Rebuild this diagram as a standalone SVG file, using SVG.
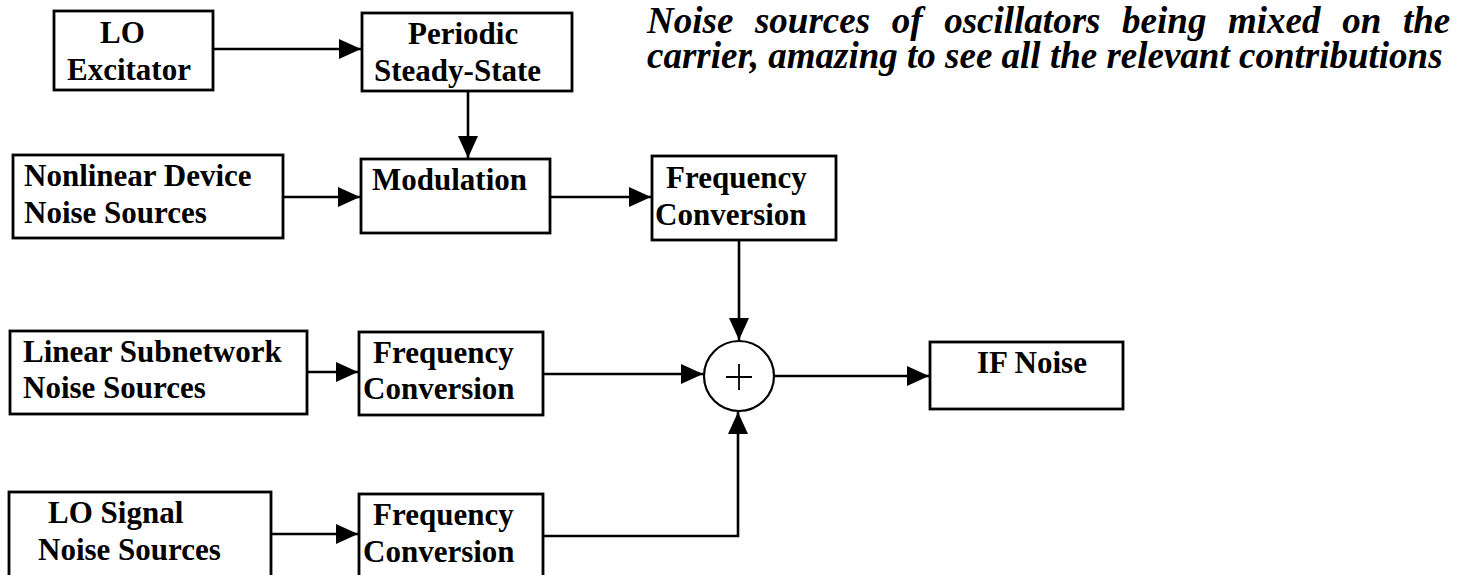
<svg xmlns="http://www.w3.org/2000/svg" width="1461" height="575" viewBox="0 0 1461 575">
<style>
.box{fill:#fff;stroke:#000;stroke-width:2.8}
.lbl{font-family:"Liberation Serif","Times New Roman",serif;font-weight:bold;font-size:31px;fill:#000}
.ttl{font-family:"Liberation Serif","Times New Roman",serif;font-weight:bold;font-style:italic;font-size:37px;fill:#000}
.con{fill:none;stroke:#000;stroke-width:2.6}
</style>
<defs>
<marker id="ah" markerUnits="userSpaceOnUse" viewBox="0 0 22 20" refX="22" refY="10" markerWidth="22" markerHeight="20" orient="auto">
<path d="M0,0 L22,10 L0,20 Z" fill="#000"/>
</marker>
</defs>
<rect width="1461" height="575" fill="#fff"/>
<g id="title">
<text class="ttl" x="647" y="33" word-spacing="12.4">Noise sources of oscillators being mixed on the</text>
<text class="ttl" x="647" y="68">carrier, amazing to see all the relevant contributions</text>
</g>
<g id="lo-excitator">
<rect class="box" x="54" y="11" width="159" height="79"/>
<text class="lbl" x="100" y="43">LO</text>
<text class="lbl" x="67" y="80">Excitator</text>
</g>
<g id="periodic">
<rect class="box" x="362" y="13" width="210" height="78"/>
<text class="lbl" x="408" y="44">Periodic</text>
<text class="lbl" x="374" y="81">Steady-State</text>
</g>
<g id="nonlinear">
<rect class="box" x="13" y="155" width="270" height="83"/>
<text class="lbl" x="24" y="186">Nonlinear Device</text>
<text class="lbl" x="24" y="223">Noise Sources</text>
</g>
<g id="modulation">
<rect class="box" x="361" y="159" width="189" height="74"/>
<text class="lbl" x="372" y="190">Modulation</text>
</g>
<g id="fc1">
<rect class="box" x="652" y="156" width="184" height="84"/>
<text class="lbl" x="666" y="188">Frequency</text>
<text class="lbl" x="655" y="225">Conversion</text>
</g>
<g id="linear">
<rect class="box" x="10" y="331" width="297" height="83"/>
<text class="lbl" x="23" y="362">Linear Subnetwork</text>
<text class="lbl" x="23" y="398">Noise Sources</text>
</g>
<g id="fc2">
<rect class="box" x="359" y="332" width="184" height="83"/>
<text class="lbl" x="373" y="363">Frequency</text>
<text class="lbl" x="363" y="399">Conversion</text>
</g>
<g id="sum">
<circle cx="739" cy="376" r="35" fill="#fff" stroke="#000" stroke-width="2.2"/>
<path d="M726,377 H752 M739,364 V390" stroke="#000" stroke-width="1.8" fill="none"/>
</g>
<g id="if-noise">
<rect class="box" x="930" y="342" width="193" height="67"/>
<text class="lbl" x="977" y="373">IF Noise</text>
</g>
<g id="lo-signal">
<rect class="box" x="9" y="492" width="262" height="95"/>
<text class="lbl" x="48" y="523">LO Signal</text>
<text class="lbl" x="38" y="560">Noise Sources</text>
</g>
<g id="fc3">
<rect class="box" x="359" y="494" width="184" height="95"/>
<text class="lbl" x="373" y="525">Frequency</text>
<text class="lbl" x="363" y="562">Conversion</text>
</g>
<g id="connectors">
<path class="con" d="M213,49 H361" marker-end="url(#ah)"/>
<path class="con" d="M468,91 V158" marker-end="url(#ah)"/>
<path class="con" d="M283,197 H360" marker-end="url(#ah)"/>
<path class="con" d="M550,197 H651" marker-end="url(#ah)"/>
<path class="con" d="M739,240 V340" marker-end="url(#ah)"/>
<path class="con" d="M307,372 H358" marker-end="url(#ah)"/>
<path class="con" d="M543,374 H703" marker-end="url(#ah)"/>
<path class="con" d="M774,376 H929" marker-end="url(#ah)"/>
<path class="con" d="M271,534 H358" marker-end="url(#ah)"/>
<path class="con" d="M543,536 H738 V412" marker-end="url(#ah)"/>
</g>
</svg>
